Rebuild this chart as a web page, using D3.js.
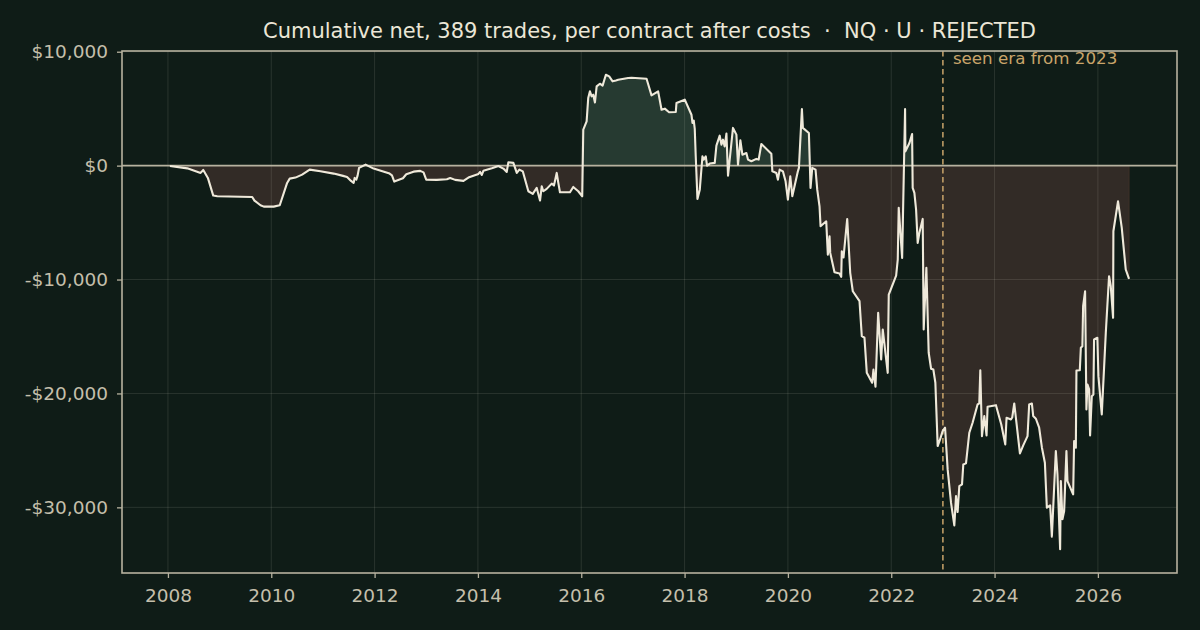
<!DOCTYPE html>
<html>
<head>
<meta charset="utf-8">
<script src="https://cdn.jsdelivr.net/npm/d3@7"></script>
<style>
  html, body { margin: 0; padding: 0; background: #0f1c17; }
  svg { display: block; font-family: "DejaVu Sans", sans-serif; }
</style>
</head>
<body>
<div id="chart"></div>
<script>
// trade dates as decimal years, cumulative net per contract in dollars
const tradeYears = [
  2008.039, 2008.375, 2008.632, 2008.684, 2008.773, 2008.877, 2008.955, 2009.631, 2009.675, 2009.791,
  2009.855, 2010.048, 2010.164, 2010.307, 2010.357, 2010.468, 2010.597, 2010.744, 2010.951, 2011.208,
  2011.389, 2011.467, 2011.544, 2011.594, 2011.614, 2011.646, 2011.671, 2011.699, 2011.826, 2011.981,
  2012.290, 2012.336, 2012.381, 2012.549, 2012.613, 2012.754, 2012.883, 2012.947, 2012.999, 2013.206,
  2013.399, 2013.463, 2013.559, 2013.720, 2013.816, 2013.913, 2014.010, 2014.042, 2014.075, 2014.106,
  2014.269, 2014.396, 2014.493, 2014.558, 2014.589, 2014.686, 2014.752, 2014.802, 2014.868, 2014.976,
  2015.061, 2015.138, 2015.202, 2015.235, 2015.266, 2015.331, 2015.428, 2015.472, 2015.525, 2015.556,
  2015.588, 2015.782, 2015.845, 2015.942, 2016.019, 2016.039, 2016.104, 2016.135, 2016.168, 2016.201,
  2016.232, 2016.265, 2016.298, 2016.361, 2016.413, 2016.477, 2016.541, 2016.607, 2016.671, 2016.715,
  2016.908, 2016.974, 2017.264, 2017.360, 2017.488, 2017.554, 2017.617, 2017.700, 2017.830, 2017.843,
  2018.004, 2018.133, 2018.153, 2018.178, 2018.197, 2018.216, 2018.249, 2018.294, 2018.346, 2018.371,
  2018.410, 2018.435, 2018.487, 2018.584, 2018.616, 2018.680, 2018.713, 2018.744, 2018.776, 2018.810,
  2018.841, 2018.937, 2019.003, 2019.034, 2019.080, 2019.119, 2019.196, 2019.227, 2019.293, 2019.389,
  2019.434, 2019.486, 2019.679, 2019.699, 2019.776, 2019.807, 2019.840, 2019.903, 2019.955, 2020.000,
  2020.046, 2020.085, 2020.193, 2020.213, 2020.271, 2020.290, 2020.406, 2020.438, 2020.471, 2020.535,
  2020.568, 2020.612, 2020.632, 2020.742, 2020.773, 2020.806, 2020.819, 2020.902, 2020.999, 2021.032,
  2021.043, 2021.076, 2021.148, 2021.206, 2021.256, 2021.386, 2021.430, 2021.482, 2021.527, 2021.579,
  2021.631, 2021.656, 2021.695, 2021.747, 2021.805, 2021.836, 2021.932, 2021.952, 2022.095, 2022.126,
  2022.145, 2022.211, 2022.268, 2022.274, 2022.352, 2022.404, 2022.415, 2022.448, 2022.481, 2022.512,
  2022.545, 2022.609, 2022.628, 2022.680, 2022.725, 2022.771, 2022.815, 2022.854, 2022.899, 2022.945,
  2022.995, 2023.042, 2023.092, 2023.157, 2023.221, 2023.254, 2023.285, 2023.318, 2023.370, 2023.395,
  2023.447, 2023.511, 2023.575, 2023.671, 2023.704, 2023.724, 2023.756, 2023.801, 2023.845, 2023.865,
  2024.027, 2024.130, 2024.207, 2024.232, 2024.317, 2024.342, 2024.381, 2024.491, 2024.555, 2024.638,
  2024.670, 2024.722, 2024.748, 2024.800, 2024.863, 2024.916, 2024.974, 2025.012, 2025.076, 2025.109,
  2025.186, 2025.217, 2025.269, 2025.283, 2025.314, 2025.347, 2025.391, 2025.411, 2025.521, 2025.540,
  2025.573, 2025.585, 2025.650, 2025.670, 2025.700, 2025.714, 2025.752, 2025.778, 2025.797, 2025.830,
  2025.849, 2025.882, 2025.913, 2025.926, 2025.990, 2026.010, 2026.075, 2026.153, 2026.216, 2026.249,
  2026.294, 2026.300, 2026.390, 2026.462, 2026.539, 2026.603
];
const cumNet = [
  -30, -240, -640, -380, -1080, -2630, -2690, -2750, -3070, -3480,
  -3600, -3600, -3480, -1520, -1140, -1050, -790, -350, -500, -700,
  -900, -990, -1340, -1520, -1080, -1230, -880, -200, 90, -260,
  -700, -850, -1400, -1110, -760, -530, -460, -590, -1230, -1250,
  -1200, -1080, -1250, -1340, -1050, -880, -730, -550, -820, -460,
  -240, -30, -260, -550, 290, 240, -640, -350, -500, -2250,
  -2480, -1960, -3070, -1820, -2250, -2040, -1580, -1750, -640, -1520,
  -2340, -2340, -1870, -2250, -2690, 3160, 3890, 5940, 6520, 6080,
  6230, 5550, 6960, 7190, 7020, 7980, 7830, 7400, 7480, 7540,
  7690, 7720, 7630, 6170, 6520, 4910, 5000, 4680, 4710, 5500,
  5790, 4470, 3750, 3950, 3220, 820, -2920, -2110, 820, 530,
  820, 0, 180, 240, 1750, 2630, 1840, 2280, 1690, 2810,
  -880, 3310, 2720, 90, 2220, 960, 1110, 530, 380, 590,
  530, 1900, 1050, -500, -640, -1230, -350, -500, -1380, -2980,
  -940, -2690, -500, -200, 4970, 3310, 2870, -1960, -200, -350,
  -2110, -3570, -5320, -4890, -7810, -6200, -7660, -9360, -9470, -9760,
  -7520, -8070, -4680, -9410, -11030, -11900, -14970, -15110, -18190, -18620,
  -19060, -17900, -19410, -12920, -17020, -14390, -18190, -11320, -9650, -8250,
  -3710, -8100, 4970, 1250, 1990, 2780, -1960, -2390, -3860, -6780,
  -5900, -4680, -14390, -8970, -16430, -17830, -17900, -19060, -24620, -24040,
  -23310, -23010, -26670, -29590, -31580, -29010, -30410, -28130, -27980, -26230,
  -26140, -23450, -22570, -20970, -20880, -17960, -23750, -21990, -23680, -21170,
  -21030, -22720, -24470, -22130, -22280, -22110, -20880, -25260, -24560, -23750,
  -20970, -20880, -21990, -22220, -23010, -24740, -26080, -30030, -29820, -32570,
  -25060, -27110, -33680, -27690, -31050, -30320, -25060, -27690, -28860, -24180,
  -24760, -17980, -17960, -15990, -15850, -12340, -11030, -21400, -19210, -19650,
  -23680, -20240, -20090, -15260, -15110, -18480, -21840, -14680, -9710, -10590,
  -13360, -5760, -3130, -5470, -9120, -9940
];
const yearTicks = [2008, 2010, 2012, 2014, 2016, 2018, 2020, 2022, 2024, 2026];
const dollarTicks = [10000, 0, -10000, -20000, -30000];
const seenEraYear = 2023;
const titleText = "Cumulative net, 389 trades, per contract after costs  \u00b7  NQ \u00b7 U \u00b7 REJECTED";
const seenLabel = "seen era from 2023";

const data = tradeYears.map((t, i) => ({ t, v: cumNet[i] }));

const W = 1200, H = 630;
const margin = { top: 51, right: 23, bottom: 57, left: 122 };

// matplotlib-style 5% margins around the data
const pad = (lo, hi) => { const d = (hi - lo) * 0.05; return [lo - d, hi + d]; };
const x = d3.scaleLinear()
  .domain(pad(...d3.extent(tradeYears)))
  .range([margin.left, W - margin.right]);
const y = d3.scaleLinear()
  .domain(pad(...d3.extent(cumNet)))
  .range([H - margin.bottom, margin.top]);

const fmtDollar = v => (v < 0 ? "-$" : "$") + d3.format(",")(Math.abs(v));

const svg = d3.select("#chart").append("svg")
  .attr("width", W)
  .attr("height", H);

svg.append("rect").attr("width", W).attr("height", H).attr("fill", "#0f1c17");

const clipAbove = svg.append("clipPath").attr("id", "above");
clipAbove.append("rect")
  .attr("x", margin.left).attr("y", margin.top)
  .attr("width", W - margin.left - margin.right)
  .attr("height", y(0) - margin.top);
const clipBelow = svg.append("clipPath").attr("id", "below");
clipBelow.append("rect")
  .attr("x", margin.left).attr("y", y(0))
  .attr("width", W - margin.left - margin.right)
  .attr("height", H - margin.bottom - y(0));

const area = d3.area().x(d => x(d.t)).y0(y(0)).y1(d => y(d.v));

svg.append("path").datum(data)
  .attr("d", area)
  .attr("fill", "#263a31")
  .attr("clip-path", "url(#above)");
svg.append("path").datum(data)
  .attr("d", area)
  .attr("fill", "#322b26")
  .attr("stroke", "#3e2f28")
  .attr("stroke-width", 1)
  .attr("clip-path", "url(#below)");

// grid
const grid = svg.append("g").attr("stroke", "#e8e4d4").attr("stroke-opacity", 0.12).attr("stroke-width", 1);
grid.selectAll("line.v").data(yearTicks).join("line")
  .attr("x1", d => x(d)).attr("x2", d => x(d))
  .attr("y1", margin.top).attr("y2", H - margin.bottom);
grid.selectAll("line.h").data(dollarTicks).join("line")
  .attr("x1", margin.left).attr("x2", W - margin.right)
  .attr("y1", d => y(d)).attr("y2", d => y(d));

// zero line
svg.append("line")
  .attr("x1", margin.left).attr("x2", W - margin.right)
  .attr("y1", y(0)).attr("y2", y(0))
  .attr("stroke", "#b7b29f").attr("stroke-width", 1.6);

// seen era marker
svg.append("line")
  .attr("x1", x(seenEraYear)).attr("x2", x(seenEraYear))
  .attr("y1", margin.top).attr("y2", H - margin.bottom)
  .attr("stroke", "#c9a46a").attr("stroke-width", 1.5)
  .attr("stroke-dasharray", "5.5,3.5");
svg.append("text")
  .attr("x", x(seenEraYear) + 10).attr("y", margin.top + 13)
  .attr("fill", "#c9a46a")
  .style("font-size", "16.7px")
  .text(seenLabel);

// cumulative line
svg.append("path").datum(data)
  .attr("d", d3.line().x(d => x(d.t)).y(d => y(d.v)))
  .attr("fill", "none")
  .attr("stroke", "#efe9da")
  .attr("stroke-width", 2.1)
  .attr("stroke-linejoin", "round");

// axes
const axisColor = "#b7b29f";
const xAxis = svg.append("g")
  .attr("transform", `translate(0,${H - margin.bottom})`)
  .call(d3.axisBottom(x).tickValues(yearTicks).tickFormat(d3.format("d")).tickSize(5).tickPadding(11));
const yAxis = svg.append("g")
  .attr("transform", `translate(${margin.left},0)`)
  .call(d3.axisLeft(y).tickValues(dollarTicks).tickFormat(fmtDollar).tickSize(5).tickPadding(9));
[xAxis, yAxis].forEach(g => {
  g.select(".domain").remove();
  g.selectAll(".tick line").attr("stroke", axisColor).attr("stroke-width", 1.3);
  g.selectAll(".tick text").attr("fill", "#c4bfab")
    .style("font-size", "18.5px").style("font-family", "DejaVu Sans");
});

// frame
svg.append("rect")
  .attr("x", margin.left).attr("y", margin.top)
  .attr("width", W - margin.left - margin.right)
  .attr("height", H - margin.top - margin.bottom)
  .attr("fill", "none")
  .attr("stroke", axisColor)
  .attr("stroke-width", 1.6);

svg.append("text")
  .attr("x", (margin.left + W - margin.right) / 2)
  .attr("y", 38)
  .attr("text-anchor", "middle")
  .attr("fill", "#ebe6d6")
  .style("font-size", "21px")
  .style("white-space", "pre")
  .text(titleText);
</script>
</body>
</html>
